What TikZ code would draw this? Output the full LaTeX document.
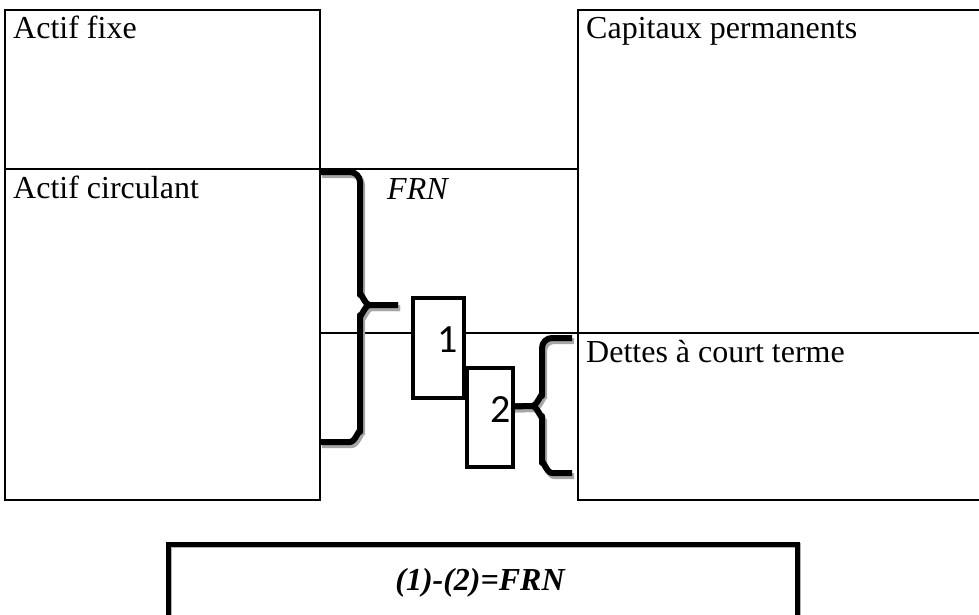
\documentclass[tikz,border=0pt]{standalone}
\usepackage{fontspec}
\setmainfont{Liberation Serif}
\newfontfamily\numfont{Carlito}
\usetikzlibrary{positioning}

\begin{document}
\begin{tikzpicture}[
	x=1pt,y=-1pt,
	cell/.style={
		draw,
		line width=2pt,
		inner sep=0pt,
		outer sep=0pt,
		anchor=north west
	},
	lbl/.style={
		anchor=base west,
		inner sep=0pt,
		font=\fontsize{32}{38}\selectfont
	},
	pile/.style={
		draw,
		fill=white,
		line width=4pt,
		inner sep=0pt,
		outer sep=0pt,
		anchor=north west
	},
	num/.style={
		anchor=base,
		inner sep=0pt,
		font=\numfont\fontsize{40}{48}\selectfont
	},
	brc/.style={
		line width=6pt,
		line join=round,
		preaction={draw=black!35,line width=6pt,transform canvas={shift={(2pt,-3pt)}}}
	}
	]
	\useasboundingbox (0,0) rectangle (979,615);
	% balance sheet cells
	\node[cell,minimum width=315pt,minimum height=159pt](af) at (5,10){};
	\node[cell,minimum width=315pt,minimum height=331pt](ac) at (5,169){};
	\node[cell,minimum width=258pt,minimum height=164pt](frn) at (320,169){};
	\node[cell,minimum width=420pt,minimum height=323pt](cp) at (578,10){};
	\node[cell,minimum width=420pt,minimum height=167pt](dct) at (578,333){};
	\node[lbl] at ([xshift=8pt,yshift=-29pt]af.north west){Actif fixe};
	\node[lbl] at ([xshift=8pt,yshift=-29pt]ac.north west){Actif circulant};
	\node[lbl] at ([xshift=8pt,yshift=-29pt]cp.north west){Capitaux permanents};
	\node[lbl] at ([xshift=8pt,yshift=-29pt]dct.north west){Dettes à court terme};
	\node[lbl,font=\fontsize{32}{38}\selectfont\itshape] at ([xshift=67pt,yshift=-30pt]frn.north west){FRN};
	% boxes 1 and 2
	\node[pile,minimum width=51pt,minimum height=100pt](p1) at (413,298){};
	\node[pile,minimum width=46pt,minimum height=99pt](p2) at (467,368){};
	\node[num] at ([xshift=9pt,yshift=-54pt]p1.north){1};
	\node[num] at ([xshift=11pt,yshift=-54pt]p2.north){2};
	% braces
	\draw[brc] (320,172) -- (350,172) to[out=0,in=90] (360,182) -- (360,295) to[out=90,in=180] (370,305) -- (398,305);
	\draw[brc] (398,305) -- (370,305) to[out=180,in=-90] (360,315) -- (360,432) to[out=90,in=0] (350,442) -- (320,442);
	\draw[brc] (572,338) -- (552,338) to[out=180,in=90] (542,348) -- (542,396) to[out=90,in=0] (532,406) -- ([yshift=11pt]p2.east);
	\draw[brc] ([yshift=11pt]p2.east) -- (532,406) to[out=0,in=-90] (542,416) -- (542,463) to[out=90,in=180] (552,473) -- (572,473);
	% result
	\node[cell,line width=5pt,minimum width=629pt,minimum height=100pt,
		preaction={draw=black!30,line width=5pt,transform canvas={shift={(1.5pt,-1.5pt)}}}](res) at (168,544){};
	\node[lbl,anchor=base,font=\fontsize{32}{38}\selectfont\bfseries\itshape] at ([xshift=-2.5pt,yshift=-46pt]res.north){(1)-(2)=FRN};
\end{tikzpicture}
\end{document}
